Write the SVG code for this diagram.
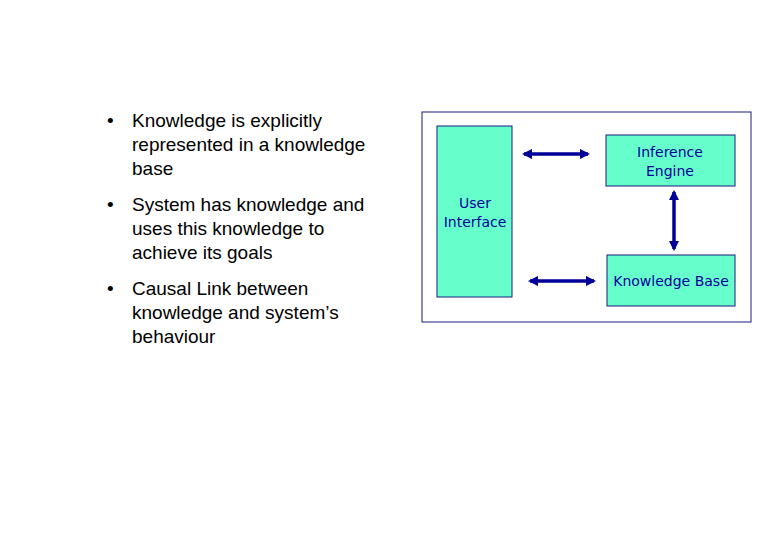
<svg xmlns="http://www.w3.org/2000/svg" width="780" height="540" viewBox="0 0 780 540">
<style>
.b{font-family:"Liberation Sans",Arial,sans-serif;font-size:19px;fill:#000}
.box{fill:#66FFCC;stroke:#1a1a80;stroke-width:1}
.lbl{font-family:"DejaVu Sans",sans-serif;font-size:14px;fill:#000099;text-anchor:middle}
.c{stroke:#000099;stroke-width:3.5;fill:none;marker-start:url(#a);marker-end:url(#a)}
</style>
<defs><marker id="a" viewBox="0 0 10 10" refX="8" refY="5" markerWidth="3" markerHeight="3" orient="auto-start-reverse"><path d="M0,0L10,5L0,10z" fill="#000099"/></marker></defs>
<rect width="780" height="540" fill="#fff"/>
<g id="bullets" class="b">
<text x="107" y="127">•</text><text x="132" y="127">Knowledge is explicitly</text><text x="132" y="151">represented in a knowledge</text><text x="132" y="175">base</text>
<text x="107" y="211">•</text><text x="132" y="211">System has knowledge and</text><text x="132" y="235">uses this knowledge to</text><text x="132" y="259">achieve its goals</text>
<text x="107" y="295">•</text><text x="132" y="295">Causal Link between</text><text x="132" y="319">knowledge and system’s</text><text x="132" y="343">behaviour</text>
</g>
<rect id="frame" x="422" y="112" width="329" height="210" fill="#fff" stroke="#1a1a80"/>
<g id="ui"><rect class="box" x="437" y="126" width="75" height="171"/><text class="lbl" x="475" y="208">User</text><text class="lbl" x="475" y="227">Interface</text></g>
<g id="ie"><rect class="box" x="606" y="135" width="129" height="51"/><text class="lbl" x="670" y="157">Inference</text><text class="lbl" x="670" y="176">Engine</text></g>
<g id="kb"><rect class="box" x="607" y="255" width="128" height="51"/><text class="lbl" x="671" y="286">Knowledge Base</text></g>
<g id="connectors">
<line class="c" x1="524" y1="154" x2="588" y2="154"/>
<line class="c" x1="530" y1="281" x2="594" y2="281"/>
<line class="c" x1="674" y1="192" x2="674" y2="249"/>
</g>
</svg>
